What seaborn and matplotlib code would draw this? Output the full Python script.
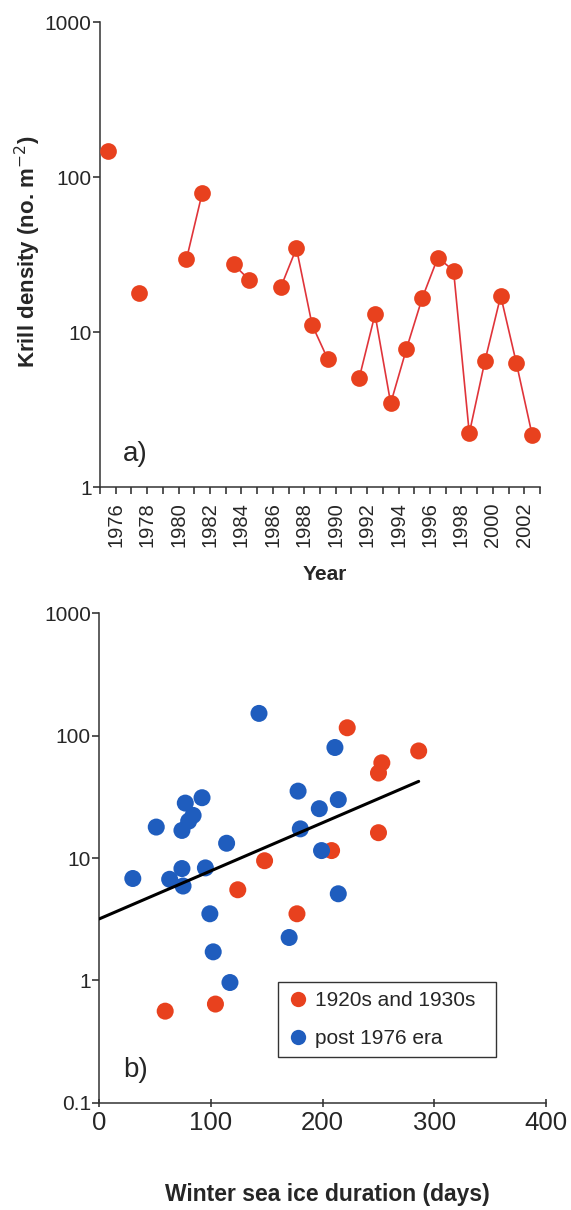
import numpy as np
import pandas as pd
import seaborn as sns
import matplotlib.pyplot as plt
from matplotlib.ticker import NullLocator

# panel a: krill density per survey year
years_a = [1976, 1978, 1981, 1982, 1984, 1985, 1987, 1988, 1989, 1990, 1992,
           1993, 1994, 1995, 1996, 1997, 1998, 1999, 2000, 2001, 2002, 2003]
density_a = [148, 17.9, 29.4, 78.5, 27.3, 21.7, 19.4, 34.7, 11.1, 6.67, 5.07,
             13.0, 3.47, 7.77, 16.5, 30.2, 24.9, 2.22, 6.53, 17.1, 6.28, 2.17]
year_ticks = list(range(1975, 2004))
year_labels = ['1976', '1978', '1980', '1982', '1984', '1986', '1988',
               '1990', '1992', '1994', '1996', '1998', '2000', '2002']

# panel b: density vs winter sea ice duration
old_days = [59, 104, 124, 148, 177, 208, 222, 250, 250, 253, 286]
old_density = [0.56, 0.64, 5.5, 9.5, 3.5, 11.5, 116, 16.1, 49.5, 60, 75]
new_days = [30, 51, 63, 74, 75, 74, 77, 80, 84, 92, 95, 99, 102, 117, 114,
            143, 170, 178, 180, 197, 199, 211, 214, 214]
new_density = [6.8, 17.9, 6.7, 8.2, 5.9, 16.8, 28.1, 20, 22.3, 31.1, 8.3, 3.5,
               1.71, 0.96, 13.2, 152, 2.24, 35.2, 17.3, 25.3, 11.5, 80, 30, 5.1]
era_names = ['1920s and 1930s', 'post 1976 era']
fit_days = [0, 286]
fit_density = [3.18, 42.3]

red = '#E8411E'
blue = '#1F5DBE'

sns.set_style('ticks')
plt.rcParams['font.family'] = ['Liberation Sans', 'DejaVu Sans']

df_a = pd.DataFrame({'year': years_a, 'density': density_a})
df_a['pos'] = df_a['year'] - 0.5  # centre of the category slot
df_a['run'] = (df_a['year'].diff() > 1).cumsum()

df_b = pd.concat([
    pd.DataFrame({'days': old_days, 'density': old_density, 'era': era_names[0]}),
    pd.DataFrame({'days': new_days, 'density': new_density, 'era': era_names[1]}),
], ignore_index=True)
df_fit = pd.DataFrame({'days': fit_days, 'density': fit_density})

fig = plt.figure(figsize=(5.71, 12.10), dpi=100)
ax_a = fig.add_axes([100 / 571, 1 - 487 / 1210, 440 / 571, 465 / 1210])
ax_b = fig.add_axes([99.3 / 571, 1 - 1102.7 / 1210, 446.7 / 571, 489.4 / 1210])

#### panel a
ax_a.set_yscale('log')
sns.lineplot(data=df_a, x='pos', y='density', units='run', estimator=None,
             color='#E0343A', lw=1.2, ax=ax_a, legend=False)
sns.scatterplot(data=df_a, x='pos', y='density', color=red, s=145,
                linewidth=0, ax=ax_a, zorder=3)
ax_a.set_xlim(1975, 2003)
ax_a.set_ylim(1, 1000)
ax_a.set_yticks([1, 10, 100, 1000], ['1', '10', '100', '1000'])
ax_a.yaxis.set_minor_locator(NullLocator())
ax_a.set_xticks(year_ticks,
                [str(y) if str(y) in year_labels else '' for y in year_ticks],
                rotation=90)
ax_a.tick_params(axis='y', labelsize=15, length=5, width=1.1, pad=1, direction='out')
ax_a.tick_params(axis='x', labelsize=14.5, length=5, width=1.1, pad=6, direction='out')
ax_a.set_ylabel('Krill density (no. m$^{-2}$)', fontsize=16, fontweight='bold')
ax_a.yaxis.set_label_coords(-0.13, 0.505)
ax_a.set_xlabel('Year', fontsize=15, fontweight='bold')
ax_a.xaxis.set_label_coords(0.51, -0.168)
ax_a.text(0.053, 0.07, 'a)', transform=ax_a.transAxes, fontsize=20,
          ha='left', va='center')

#### panel b
ax_b.set_yscale('log')
sns.scatterplot(data=df_b, x='days', y='density', hue='era', hue_order=era_names,
                palette=[red, blue], s=150, linewidth=0, ax=ax_b, zorder=2)
sns.lineplot(data=df_fit, x='days', y='density', color='black', lw=2.2,
             ax=ax_b, zorder=3)
ax_b.set_xlim(0, 400)
ax_b.set_ylim(0.1, 1000)
ax_b.set_xticks([0, 100, 200, 300, 400], ['0', '100', '200', '300', '400'])
ax_b.set_yticks([0.1, 1, 10, 100, 1000], ['0.1', '1', '10', '100', '1000'])
ax_b.yaxis.set_minor_locator(NullLocator())
ax_b.tick_params(axis='y', labelsize=15, length=5, width=1.1, pad=1, direction='out')
ax_b.tick_params(axis='x', labelsize=18.5, length=6, width=1.1, pad=3, direction='inout')
ax_b.set_ylabel('')
ax_b.set_xlabel('Winter sea ice duration (days)', fontsize=16.5, fontweight='bold')
ax_b.xaxis.set_label_coords(0.51, -0.165)
ax_b.text(0.053, 0.067, 'b)', transform=ax_b.transAxes, fontsize=20,
          ha='left', va='center')

leg = ax_b.legend(loc='upper left', bbox_to_anchor=(0.401, 0.0, 0.486, 0.247),
                  mode='expand', borderaxespad=0, fontsize=15, frameon=True,
                  fancybox=False, edgecolor='black', handlelength=1.0,
                  handletextpad=0.3, borderpad=0.45, labelspacing=0.9,
                  markerscale=0.9)
leg.get_frame().set_linewidth(1.0)

for ax in (ax_a, ax_b):
    sns.despine(ax=ax)
    for side in ('left', 'bottom'):
        ax.spines[side].set_color('#333333')
        ax.spines[side].set_linewidth(1.1)

fig.savefig('out.png', dpi=100)
